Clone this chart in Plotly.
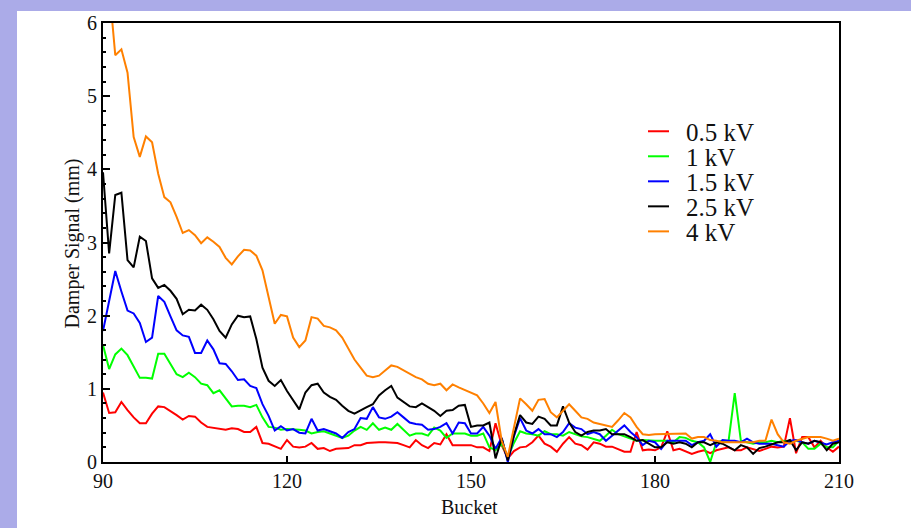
import plotly.graph_objects as go

buckets = list(range(90, 211))

series_names = ["0.5 kV", "1 kV", "1.5 kV", "2.5 kV", "4 kV"]
series_colors = ["#FF0000", "#00FF00", "#0000FF", "#000000", "#FF8000"]

kv_0_5 = [0.95, 0.67, 0.68, 0.82, 0.71, 0.61, 0.53, 0.53, 0.66, 0.76,
          0.75, 0.70, 0.64, 0.58, 0.63, 0.62, 0.54, 0.48, 0.47, 0.46,
          0.44, 0.46, 0.45, 0.41, 0.41, 0.48, 0.26, 0.25, 0.22, 0.18,
          0.30, 0.21, 0.20, 0.21, 0.26, 0.18, 0.19, 0.15, 0.18, 0.18,
          0.19, 0.23, 0.23, 0.26, 0.27, 0.27, 0.27, 0.26, 0.26, 0.23,
          0.20, 0.30, 0.23, 0.19, 0.26, 0.24, 0.38, 0.23, 0.23, 0.23,
          0.23, 0.20, 0.20, 0.15, 0.53, 0.23, 0.05, 0.15, 0.20, 0.21,
          0.27, 0.36, 0.25, 0.21, 0.14, 0.25, 0.34, 0.25, 0.23, 0.17,
          0.27, 0.25, 0.21, 0.21, 0.18, 0.14, 0.14, 0.41, 0.16, 0.17,
          0.16, 0.20, 0.42, 0.16, 0.18, 0.14, 0.11, 0.14, 0.16, 0.12,
          0.16, 0.18, 0.20, 0.16, 0.16, 0.20, 0.18, 0.15, 0.18, 0.21,
          0.20, 0.21, 0.60, 0.12, 0.34, 0.34, 0.20, 0.29, 0.20, 0.14,
          0.21]

kv_1 = [1.60, 1.27, 1.47, 1.55, 1.46, 1.31, 1.15, 1.15, 1.14, 1.48,
        1.48, 1.34, 1.20, 1.16, 1.22, 1.16, 1.07, 1.05, 0.94, 0.98,
        0.87, 0.76, 0.77, 0.77, 0.75, 0.78, 0.61, 0.48, 0.47, 0.44,
        0.45, 0.45, 0.44, 0.43, 0.39, 0.41, 0.42, 0.39, 0.36, 0.33,
        0.36, 0.43, 0.48, 0.44, 0.53, 0.44, 0.47, 0.44, 0.52, 0.44,
        0.36, 0.39, 0.39, 0.36, 0.47, 0.43, 0.33, 0.39, 0.39, 0.39,
        0.36, 0.36, 0.39, 0.20, 0.16, 0.25, 0.06, 0.26, 0.42, 0.39,
        0.38, 0.36, 0.42, 0.38, 0.38, 0.36, 0.41, 0.38, 0.35, 0.34,
        0.32, 0.29, 0.36, 0.44, 0.38, 0.35, 0.32, 0.29, 0.30, 0.29,
        0.29, 0.29, 0.29, 0.27, 0.34, 0.33, 0.29, 0.27, 0.20, 0.00,
        0.27, 0.29, 0.29, 0.94, 0.29, 0.27, 0.25, 0.27, 0.27, 0.29,
        0.27, 0.29, 0.27, 0.29, 0.27, 0.18, 0.18, 0.25, 0.20, 0.20,
        0.29]

kv_1_5 = [1.79, 2.20, 2.61, 2.33, 2.07, 2.03, 1.90, 1.64, 1.70, 2.27,
          2.19, 1.99, 1.80, 1.73, 1.71, 1.49, 1.49, 1.66, 1.54, 1.35,
          1.34, 1.24, 1.12, 1.13, 1.04, 1.01, 0.79, 0.63, 0.43, 0.49,
          0.43, 0.45, 0.40, 0.39, 0.59, 0.43, 0.45, 0.42, 0.39, 0.33,
          0.41, 0.45, 0.60, 0.59, 0.75, 0.61, 0.59, 0.62, 0.68, 0.61,
          0.54, 0.52, 0.51, 0.44, 0.45, 0.48, 0.53, 0.39, 0.54, 0.53,
          0.39, 0.39, 0.48, 0.36, 0.18, 0.33, 0.00, 0.35, 0.60, 0.43,
          0.39, 0.45, 0.38, 0.38, 0.34, 0.41, 0.53, 0.47, 0.45, 0.38,
          0.41, 0.38, 0.29, 0.36, 0.43, 0.50, 0.41, 0.34, 0.23, 0.29,
          0.27, 0.18, 0.29, 0.29, 0.29, 0.29, 0.23, 0.27, 0.29, 0.38,
          0.21, 0.30, 0.29, 0.29, 0.27, 0.32, 0.27, 0.25, 0.25, 0.25,
          0.23, 0.21, 0.29, 0.30, 0.27, 0.25, 0.29, 0.27, 0.24, 0.27,
          0.29]

kv_2_5 = [3.96, 2.85, 3.65, 3.68, 2.76, 2.66, 3.08, 3.02, 2.51, 2.38,
          2.42, 2.34, 2.23, 2.02, 2.08, 2.07, 2.15, 2.08, 1.95, 1.79,
          1.70, 1.88, 2.00, 1.98, 1.99, 1.68, 1.29, 1.11, 1.04, 1.12,
          0.97, 0.85, 0.72, 0.95, 1.05, 1.07, 0.95, 0.89, 0.85, 0.77,
          0.70, 0.66, 0.71, 0.75, 0.79, 0.91, 0.98, 1.04, 0.88, 0.82,
          0.76, 0.75, 0.80, 0.75, 0.70, 0.63, 0.70, 0.71, 0.77, 0.78,
          0.48, 0.50, 0.50, 0.54, 0.05, 0.32, 0.02, 0.37, 0.64, 0.54,
          0.52, 0.62, 0.59, 0.50, 0.50, 0.76, 0.54, 0.41, 0.36, 0.41,
          0.43, 0.43, 0.45, 0.38, 0.38, 0.38, 0.34, 0.29, 0.30, 0.25,
          0.20, 0.20, 0.27, 0.25, 0.27, 0.25, 0.20, 0.27, 0.27, 0.23,
          0.27, 0.25, 0.20, 0.16, 0.23, 0.20, 0.11, 0.19, 0.21, 0.24,
          0.27, 0.27, 0.30, 0.16, 0.27, 0.25, 0.29, 0.27, 0.16, 0.25,
          0.27]

kv_4 = [6.90, 6.50, 5.56, 5.64, 5.32, 4.44, 4.17, 4.45, 4.37, 3.94,
        3.62, 3.55, 3.35, 3.13, 3.17, 3.10, 2.99, 3.07, 3.01, 2.94,
        2.79, 2.70, 2.81, 2.90, 2.89, 2.82, 2.62, 2.24, 1.89, 2.01,
        1.99, 1.70, 1.57, 1.66, 1.98, 1.96, 1.86, 1.84, 1.80, 1.70,
        1.56, 1.40, 1.29, 1.18, 1.16, 1.18, 1.25, 1.32, 1.30, 1.25,
        1.20, 1.16, 1.13, 1.07, 1.05, 1.07, 0.98, 1.06, 1.02, 0.98,
        0.95, 0.91, 0.80, 0.67, 0.82, 0.29, 0.07, 0.48, 0.87, 0.79,
        0.70, 0.85, 0.86, 0.68, 0.61, 0.70, 0.79, 0.70, 0.61, 0.59,
        0.54, 0.52, 0.50, 0.48, 0.57, 0.67, 0.61, 0.48, 0.38, 0.37,
        0.38, 0.38, 0.39, 0.38, 0.39, 0.39, 0.32, 0.34, 0.34, 0.30,
        0.29, 0.27, 0.27, 0.27, 0.27, 0.27, 0.27, 0.29, 0.29, 0.58,
        0.38, 0.27, 0.25, 0.29, 0.32, 0.34, 0.34, 0.34, 0.32, 0.29,
        0.32]

series_values = [kv_0_5, kv_1, kv_1_5, kv_2_5, kv_4]

x_tick_vals = [90, 120, 150, 180, 210]
y_tick_vals = [0, 1, 2, 3, 4, 5, 6]

# ---- layout geometry (pixels) ----
W, H = 911, 528
L, R, T, B = 103, 72, 20, 66
PW = W - L - R
PH = H - T - B


def px(xp):
    return (xp - L) / PW


def py(yp):
    return (H - B - yp) / PH


FONT = "Liberation Serif, Times New Roman, serif"
LAV = "#ABABE8"

fig = go.Figure()
for name, vals, color in zip(series_names, series_values, series_colors):
    fig.add_trace(go.Scatter(x=buckets, y=vals, mode="lines", name=name,
                             line=dict(color=color, width=2),
                             showlegend=False))

shapes = [dict(type="rect", xref="paper", yref="paper",
               x0=px(17), x1=px(W + 5), y0=py(H + 5), y1=py(8),
               fillcolor="white", line=dict(width=0), layer="below")]
annotations = []

# manual legend
leg_y0, leg_step = 129, 25.2
for i, (name, color) in enumerate(zip(series_names, series_colors)):
    yy = leg_y0 + i * leg_step
    shapes.append(dict(type="line", xref="paper", yref="paper",
                       x0=px(648), x1=px(669), y0=py(yy), y1=py(yy),
                       line=dict(color=color, width=2)))
    annotations.append(dict(xref="paper", yref="paper", x=px(684), y=py(yy + 1),
                            xanchor="left", yanchor="middle", showarrow=False,
                            text=name, font=dict(family=FONT, size=25, color="#111")))

annotations.append(dict(xref="paper", yref="paper", x=px(469), y=py(507),
                        xanchor="center", yanchor="middle", showarrow=False,
                        text="Bucket", font=dict(family=FONT, size=20, color="#111")))
annotations.append(dict(xref="paper", yref="paper", x=px(72), y=py(242),
                        xanchor="center", yanchor="middle", showarrow=False,
                        textangle=-90,
                        text="Damper Signal (mm)", font=dict(family=FONT, size=20, color="#111")))

fig.update_layout(
    width=W, height=H,
    margin=dict(l=L, r=R, t=T, b=B, pad=0),
    paper_bgcolor=LAV, plot_bgcolor="white",
    showlegend=False,
    shapes=shapes, annotations=annotations,
    xaxis=dict(range=[90, 210], tickvals=x_tick_vals, ticks="inside", ticklen=6,
               tickwidth=2, tickcolor="black", showline=True, linewidth=2,
               linecolor="black", mirror=True, showgrid=False, zeroline=False,
               tickfont=dict(family=FONT, size=20, color="#111")),
    yaxis=dict(range=[0, 6], tickvals=y_tick_vals, ticks="inside", ticklen=7,
               tickwidth=2, tickcolor="black", showline=True, linewidth=2,
               linecolor="black", mirror=True, showgrid=False, zeroline=False,
               minor=dict(ticks="inside", ticklen=3, tickwidth=1.5, dtick=0.2,
                          tickcolor="black", showgrid=False),
               tickfont=dict(family=FONT, size=20, color="#111")),
)

fig.write_html("out.html")
